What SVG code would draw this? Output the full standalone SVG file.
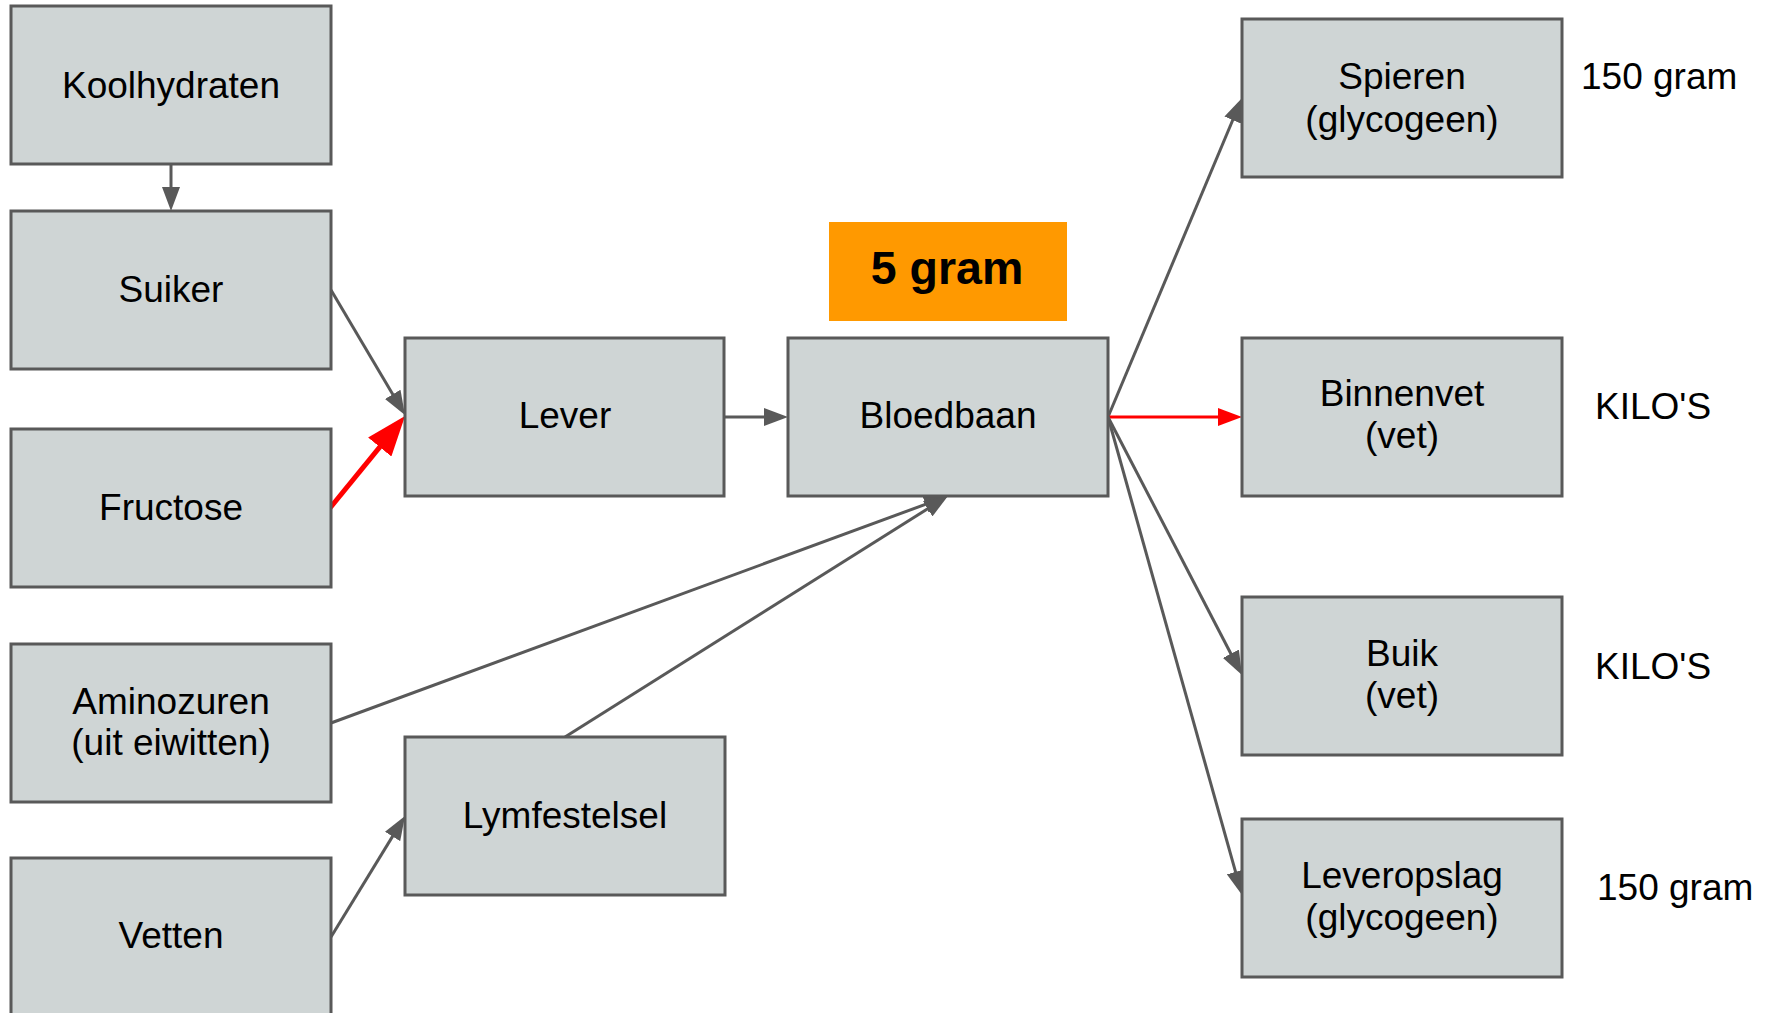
<svg xmlns="http://www.w3.org/2000/svg" width="1766" height="1013" viewBox="0 0 1766 1013">
<style>
.box{fill:#cfd5d5;stroke:#595959;stroke-width:3}
.t{font-family:"Liberation Sans",Arial,sans-serif;font-size:37px;fill:#000;text-anchor:middle}
.side{font-family:"Liberation Sans",Arial,sans-serif;font-size:37px;fill:#000}
.c{fill:none;stroke:#595959;stroke-width:3}
.r{fill:none;stroke:#ff0000;stroke-width:3}
.r5{fill:none;stroke:#ff0000;stroke-width:5}
</style>
<defs>
<marker id="ag" viewBox="0 0 8 6" refX="6" refY="3" markerWidth="8" markerHeight="6" markerUnits="strokeWidth" orient="auto"><path d="M0,0 L8,3 L0,6 z" fill="#595959"/></marker>
<marker id="ar" viewBox="0 0 8 6" refX="6" refY="3" markerWidth="8" markerHeight="6" markerUnits="strokeWidth" orient="auto"><path d="M0,0 L8,3 L0,6 z" fill="#ff0000"/></marker>
</defs>
<rect width="1766" height="1013" fill="#ffffff"/>
<g id="connectors">
<line class="c" x1="171" y1="164" x2="171" y2="205" marker-end="url(#ag)"/>
<line class="c" x1="331" y1="290" x2="401.9" y2="409.8" marker-end="url(#ag)"/>
<line class="r5" x1="330" y1="508" x2="398.7" y2="423.8" marker-end="url(#ar)"/>
<line class="c" x1="724" y1="417" x2="782" y2="417" marker-end="url(#ag)"/>
<line class="c" x1="331" y1="723" x2="942.4" y2="498.1" marker-end="url(#ag)"/>
<line class="c" x1="565" y1="737" x2="942.9" y2="499.2" marker-end="url(#ag)"/>
<line class="c" x1="331" y1="937" x2="401.9" y2="821.1" marker-end="url(#ag)"/>
<line class="c" x1="1108" y1="417" x2="1239.7" y2="103.5" marker-end="url(#ag)"/>
<line class="r" x1="1108" y1="417" x2="1236" y2="417" marker-end="url(#ar)"/>
<line class="c" x1="1108" y1="417" x2="1239.2" y2="669.7" marker-end="url(#ag)"/>
<line class="c" x1="1108" y1="417" x2="1240.4" y2="889.2" marker-end="url(#ag)"/>
</g>
<g id="koolhydraten"><rect class="box" x="11" y="6" width="320" height="158"/><text class="t" x="171" y="98">Koolhydraten</text></g>
<g id="suiker"><rect class="box" x="11" y="211" width="320" height="158"/><text class="t" x="171" y="302">Suiker</text></g>
<g id="fructose"><rect class="box" x="11" y="429" width="320" height="158"/><text class="t" x="171" y="520">Fructose</text></g>
<g id="aminozuren"><rect class="box" x="11" y="644" width="320" height="158"/><text class="t" x="171" y="714">Aminozuren</text><text class="t" x="171" y="755">(uit eiwitten)</text></g>
<g id="vetten"><rect class="box" x="11" y="858" width="320" height="158"/><text class="t" x="171" y="948">Vetten</text></g>
<g id="lever"><rect class="box" x="405" y="338" width="319" height="158"/><text class="t" x="565" y="428">Lever</text></g>
<g id="lymfestelsel"><rect class="box" x="405" y="737" width="320" height="158"/><text class="t" x="565" y="828">Lymfestelsel</text></g>
<g id="bloedbaan"><rect class="box" x="788" y="338" width="320" height="158"/><text class="t" x="948" y="428">Bloedbaan</text></g>
<g id="vijf-gram"><rect x="829" y="222" width="238" height="99" fill="#ff9900"/><text x="947" y="284" font-family="Liberation Sans,Arial,sans-serif" font-size="46.5" font-weight="bold" text-anchor="middle" fill="#000">5 gram</text></g>
<g id="spieren"><rect class="box" x="1242" y="19" width="320" height="158"/><text class="t" x="1402" y="89">Spieren</text><text class="t" x="1402" y="132">(glycogeen)</text></g>
<g id="binnenvet"><rect class="box" x="1242" y="338" width="320" height="158"/><text class="t" x="1402" y="406">Binnenvet</text><text class="t" x="1402" y="448">(vet)</text></g>
<g id="buik"><rect class="box" x="1242" y="597" width="320" height="158"/><text class="t" x="1402" y="666">Buik</text><text class="t" x="1402" y="708">(vet)</text></g>
<g id="leveropslag"><rect class="box" x="1242" y="819" width="320" height="158"/><text class="t" x="1402" y="888">Leveropslag</text><text class="t" x="1402" y="930">(glycogeen)</text></g>
<g id="labels">
<text class="side" x="1581" y="89">150 gram</text>
<text class="side" x="1595" y="419">KILO'S</text>
<text class="side" x="1595" y="679">KILO'S</text>
<text class="side" x="1597" y="900">150 gram</text>
</g>
</svg>
